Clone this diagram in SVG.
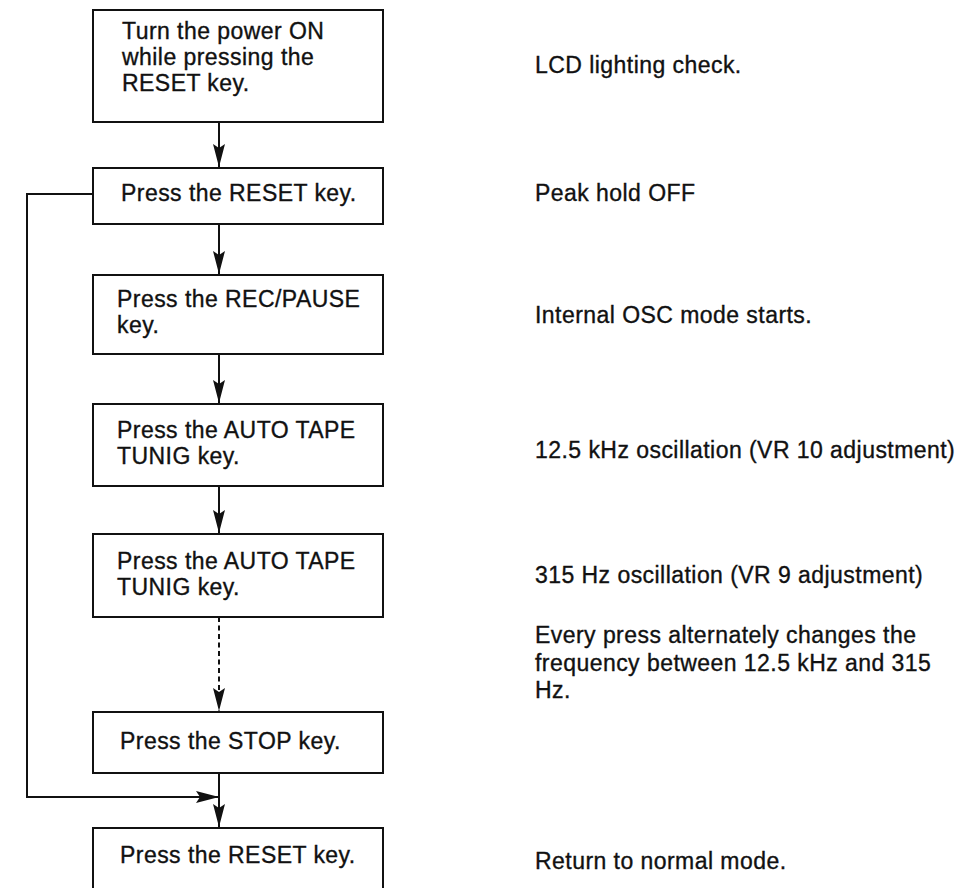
<svg xmlns="http://www.w3.org/2000/svg" width="967" height="888" viewBox="0 0 967 888">
<style>
text{font-family:"Liberation Sans",Arial,Helvetica,sans-serif;font-size:23px;letter-spacing:0.45px;fill:#111;stroke:#111;stroke-width:0.35px}
.box{fill:#fff;stroke:#111;stroke-width:2}
.ln{fill:none;stroke:#111;stroke-width:2}
.dash{stroke-dasharray:5 3.5}
</style>
<defs>
<marker id="ah" markerUnits="userSpaceOnUse" markerWidth="24" markerHeight="14" viewBox="0 0 24 14" refX="23" refY="7" orient="auto">
<path d="M0,1 L23,7 L0,13 L4,7 Z" fill="#111"/>
</marker>
</defs>
<rect width="967" height="888" fill="#fff"/>
<g id="connectors">
<path class="ln" d="M219,122 V167" marker-end="url(#ah)"/>
<path class="ln" d="M219,224 V274" marker-end="url(#ah)"/>
<path class="ln" d="M219,354 V403" marker-end="url(#ah)"/>
<path class="ln" d="M219,486 V533" marker-end="url(#ah)"/>
<path class="ln dash" d="M219,617 V711" marker-end="url(#ah)"/>
<path class="ln" d="M219,773 V827" marker-end="url(#ah)"/>
<path class="ln" d="M93,194 H27 V797 H219" marker-end="url(#ah)"/>
</g>
<g id="n1">
<rect class="box" x="93" y="10" width="290" height="112"/>
<text x="122" y="39">Turn the power ON</text>
<text x="122" y="65">while pressing the</text>
<text x="122" y="91">RESET key.</text>
</g>
<g id="n2">
<rect class="box" x="93" y="168" width="290" height="56"/>
<text x="121" y="201">Press the RESET key.</text>
</g>
<g id="n3">
<rect class="box" x="93" y="275" width="290" height="79"/>
<text x="117" y="307">Press the REC/PAUSE</text>
<text x="117" y="333">key.</text>
</g>
<g id="n4">
<rect class="box" x="93" y="404" width="290" height="82"/>
<text x="117" y="438">Press the AUTO TAPE</text>
<text x="117" y="464">TUNIG key.</text>
</g>
<g id="n5">
<rect class="box" x="93" y="534" width="290" height="83"/>
<text x="117" y="569">Press the AUTO TAPE</text>
<text x="117" y="595">TUNIG key.</text>
</g>
<g id="n6">
<rect class="box" x="93" y="712" width="290" height="61"/>
<text x="120" y="749">Press the STOP key.</text>
</g>
<g id="n7">
<rect class="box" x="93" y="828" width="290" height="70"/>
<text x="120" y="863">Press the RESET key.</text>
</g>
<g id="notes">
<text x="535" y="73">LCD lighting check.</text>
<text x="535" y="201">Peak hold OFF</text>
<text x="535" y="323">Internal OSC mode starts.</text>
<text x="535" y="458">12.5 kHz oscillation (VR 10 adjustment)</text>
<text x="535" y="583">315 Hz oscillation (VR 9 adjustment)</text>
<text x="535" y="643">Every press alternately changes the</text>
<text x="535" y="671">frequency between 12.5 kHz and 315</text>
<text x="535" y="698">Hz.</text>
<text x="535" y="869">Return to normal mode.</text>
</g>
</svg>
